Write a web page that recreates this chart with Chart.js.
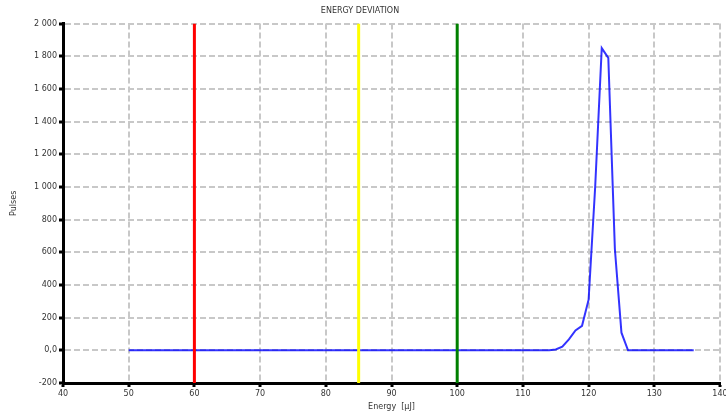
<!DOCTYPE html>
<html>
<head>
<meta charset="utf-8">
<title>Energy deviation</title>
<script src="https://cdn.jsdelivr.net/npm/chart.js@4"></script>
<style>
  html, body { margin: 0; padding: 0; background: #fff; }
  #wrap { width: 726px; height: 416px; position: relative; }
</style>
</head>
<body>
<div id="wrap"><canvas id="energyChart"></canvas></div>
<script>
// Pulse histogram, uJ per bin
const energy = [
    50, 51, 52, 53, 54, 55, 56, 57, 58, 59,
    60, 61, 62, 63, 64, 65, 66, 67, 68, 69,
    70, 71, 72, 73, 74, 75, 76, 77, 78, 79,
    80, 81, 82, 83, 84, 85, 86, 87, 88, 89,
    90, 91, 92, 93, 94, 95, 96, 97, 98, 99,
    100, 101, 102, 103, 104, 105, 106, 107, 108, 109,
    110, 111, 112, 113, 114, 115, 116, 117, 118, 119,
    120, 121, 122, 123, 124, 125, 126, 127, 128, 129,
    130, 131, 132, 133, 134, 135, 136
];
const pulses = [
    0, 0, 0, 0, 0, 0, 0, 0, 0, 0,
    0, 0, 0, 0, 0, 0, 0, 0, 0, 0,
    0, 0, 0, 0, 0, 0, 0, 0, 0, 0,
    0, 0, 0, 0, 0, 0, 0, 0, 0, 0,
    0, 0, 0, 0, 0, 0, 0, 0, 0, 0,
    0, 0, 0, 0, 0, 0, 0, 0, 0, 0,
    0, 0, 0, 0, 0, 5, 22, 67, 122, 150,
    310, 1000, 1850, 1790, 620, 108, 0, 0, 0, 0,
    0, 0, 0, 0, 0, 0, 0
];

// Limit markers (min / warning / nominal)
const limitValues = [60, 85, 100];
const limitColors = ['#ff0000', '#ffff00', '#008000'];

// Axis ranges
const xRange = [40, 140];
const yRange = [-200, 2000];
const xStep = 10;
const yStep = 200;

const limitDatasets = limitValues.map((v, i) => ({
    data: [{ x: v, y: yRange[0] }, { x: v, y: yRange[1] }],
    borderColor: limitColors[i],
    borderWidth: 3,
    pointRadius: 0,
    tension: 0
}));

const pulseDataset = {
    data: energy.map((e, i) => ({ x: e, y: pulses[i] })),
    borderColor: 'rgba(0, 0, 255, 0.8)',
    borderWidth: 2,
    pointRadius: 0,
    tension: 0
};

function formatPulses(value) {
    if (value === 0) return '0,0';
    const abs = Math.abs(value);
    let s = abs >= 1000 ? Math.floor(abs / 1000) + ' ' + String(abs % 1000).padStart(3, '0') : String(abs);
    return (value < 0 ? '-' : '') + s;
}

const tickFont = { family: 'DejaVu Sans', size: 8 };
const gridOpts = {
    color: '#c8c8c8',
    lineWidth: 2,
    tickColor: '#000',
    tickWidth: 3,
    tickLength: 4,
    tickBorderDash: []
};
const borderOpts = { color: '#000', width: 3, dash: [6, 3] };

const ctx = document.getElementById('energyChart').getContext('2d');
new Chart(ctx, {
    type: 'line',
    data: { datasets: [...limitDatasets, pulseDataset] },
    options: {
        responsive: true,
        maintainAspectRatio: false,
        animation: false,
        layout: { padding: { top: 0, right: 6, bottom: 0, left: 0 } },
        plugins: {
            legend: { display: false },
            tooltip: { enabled: false },
            title: {
                display: true,
                text: 'ENERGY DEVIATION',
                color: '#333',
                font: { family: 'DejaVu Sans', size: 8, weight: 'normal' },
                padding: { top: 6, bottom: 8 }
            }
        },
        scales: {
            x: {
                type: 'linear',
                min: xRange[0],
                max: xRange[1],
                grid: gridOpts,
                border: borderOpts,
                ticks: { stepSize: xStep, color: '#333', font: tickFont, padding: 2, maxRotation: 0 },
                title: {
                    display: true,
                    text: 'Energy  [µJ]',
                    color: '#333',
                    font: { family: 'DejaVu Sans', size: 8 },
                    padding: { top: 0, bottom: 4 }
                },
                afterFit: function(scale) {
                    scale.height = 33;
                    scale.paddingLeft = 0;
                    scale.paddingRight = 0;
                }
            },
            y: {
                type: 'linear',
                min: yRange[0],
                max: yRange[1],
                grid: gridOpts,
                border: borderOpts,
                ticks: {
                    stepSize: yStep,
                    color: '#333',
                    font: tickFont,
                    padding: 2,
                    callback: function(value) { return formatPulses(value); }
                },
                title: {
                    display: true,
                    text: 'Pulses',
                    color: '#333',
                    font: { family: 'DejaVu Sans', size: 8 },
                    padding: { top: 9, bottom: 0 }
                },
                afterFit: function(scale) {
                    scale.width = 63;
                    scale.paddingTop = 0;
                    scale.paddingBottom = 0;
                }
            }
        }
    }
});
</script>
</body>
</html>
